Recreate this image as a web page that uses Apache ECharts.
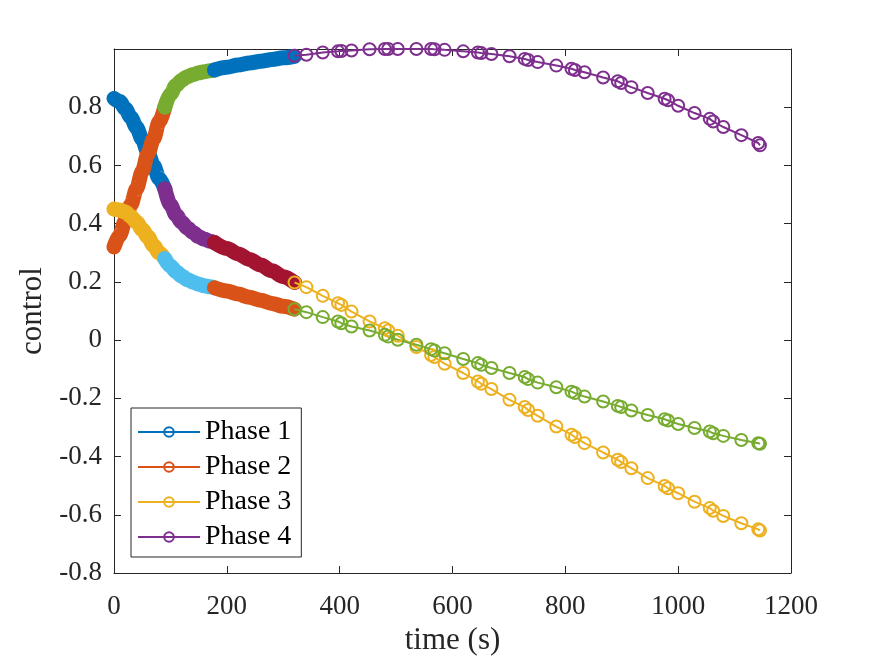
<!DOCTYPE html>
<html>
<head>
<meta charset="utf-8">
<script src="https://cdn.jsdelivr.net/npm/echarts@6/dist/echarts.min.js"></script>
<style>html,body{margin:0;padding:0;background:#fff}#c{width:875px;height:656px}</style>
</head>
<body>
<div id="c"></div>
<script>
// ---- data ----
const xTicks = [0, 200, 400, 600, 800, 1000, 1200];
const yTicks = [-0.8, -0.6, -0.4, -0.2, 0, 0.2, 0.4, 0.6, 0.8];
const legendNames = ['Phase 1', 'Phase 2', 'Phase 3', 'Phase 4'];

const p1Time  = [0, 10, 20, 30, 40, 50, 60, 70, 80, 90];
const p1CtrlA = [0.83, 0.82, 0.795, 0.765, 0.73, 0.69, 0.645, 0.60, 0.555, 0.52];
const p1CtrlB = [0.32, 0.36, 0.41, 0.465, 0.52, 0.58, 0.64, 0.69, 0.75, 0.80];
const p1CtrlC = [0.45, 0.447, 0.44, 0.425, 0.405, 0.38, 0.355, 0.325, 0.30, 0.28];

const p2Time  = [90, 100, 110, 120, 130, 140, 150, 160, 170, 178];
const p2CtrlA = [0.52, 0.465, 0.43, 0.405, 0.385, 0.37, 0.355, 0.347, 0.34, 0.335];
const p2CtrlB = [0.80, 0.845, 0.875, 0.893, 0.905, 0.912, 0.918, 0.922, 0.925, 0.928];
const p2CtrlC = [0.28, 0.255, 0.235, 0.22, 0.208, 0.199, 0.192, 0.187, 0.183, 0.18];

const p3Time  = [178, 200, 220, 240, 260, 280, 300, 320];
const p3CtrlA = [0.335, 0.315, 0.296, 0.277, 0.258, 0.238, 0.218, 0.198];
const p3CtrlB = [0.928, 0.937, 0.945, 0.952, 0.958, 0.964, 0.970, 0.975];
const p3CtrlC = [0.18, 0.169, 0.158, 0.147, 0.137, 0.126, 0.116, 0.106];

const p4Time = [320, 341, 370, 397, 403, 421, 453, 480, 486, 503, 536, 562, 568, 586,
  619, 645, 651, 669, 701, 728, 734, 751, 784, 811, 817, 834, 867, 893, 899, 917,
  946, 976, 982, 1000, 1029, 1056, 1062, 1080, 1112, 1142, 1145];
const p4CtrlA = [0.977, 0.980, 0.988, 0.992, 0.993, 0.995, 0.999, 1.000, 1.000, 1.000,
  1.000, 1.000, 0.999, 0.997, 0.992, 0.988, 0.986, 0.983, 0.975, 0.966, 0.962, 0.955,
  0.943, 0.932, 0.928, 0.920, 0.902, 0.889, 0.883, 0.869, 0.849, 0.829, 0.824, 0.805,
  0.780, 0.760, 0.751, 0.732, 0.704, 0.677, 0.669];
const p4CtrlB = [0.198, 0.182, 0.152, 0.127, 0.121, 0.098, 0.064, 0.041, 0.033, 0.015,
  -0.024, -0.051, -0.058, -0.081, -0.113, -0.142, -0.150, -0.168, -0.205, -0.230, -0.240,
  -0.260, -0.297, -0.325, -0.333, -0.354, -0.386, -0.411, -0.419, -0.440, -0.474, -0.501,
  -0.509, -0.526, -0.555, -0.577, -0.586, -0.604, -0.629, -0.650, -0.654];
const p4CtrlC = [0.106, 0.096, 0.079, 0.064, 0.058, 0.047, 0.033, 0.018, 0.012, 0.001,
  -0.016, -0.031, -0.036, -0.045, -0.065, -0.079, -0.085, -0.096, -0.113, -0.127, -0.134,
  -0.146, -0.162, -0.177, -0.182, -0.194, -0.211, -0.226, -0.230, -0.242, -0.257, -0.272,
  -0.276, -0.288, -0.302, -0.314, -0.320, -0.329, -0.343, -0.354, -0.356];

// ---- styling ----
const C = ['#0072BD', '#D95319', '#EDB120', '#7E2F8E', '#77AC30', '#4DBEEE', '#A2142F'];
const FONT = 'Liberation Serif';
const AX = '#262626';

function zip(t, v) { return t.map((x, i) => [x, v[i]]); }
function thick(t, v, color) {
  return { type: 'line', data: zip(t, v), showSymbol: false, symbol: 'none', smooth: 0.3,
    smoothMonotone: 'x', silent: true, animation: false,
    lineStyle: { color: color, width: 15, cap: 'round', join: 'round' } };
}
function marked(t, v, color, name) {
  return { type: 'line', name: name, data: zip(t, v), symbol: 'circle', symbolSize: 12,
    showAllSymbol: true, silent: true, animation: false,
    itemStyle: { color: 'rgba(0,0,0,0)', borderColor: color, borderWidth: 2 },
    lineStyle: { color: color, width: 2 } };
}

const series = [
  thick(p1Time, p1CtrlA, C[0]), thick(p1Time, p1CtrlB, C[1]), thick(p1Time, p1CtrlC, C[2]),
  thick(p2Time, p2CtrlA, C[3]), thick(p2Time, p2CtrlB, C[4]), thick(p2Time, p2CtrlC, C[5]),
  thick(p3Time, p3CtrlA, C[6]), thick(p3Time, p3CtrlB, C[0]), thick(p3Time, p3CtrlC, C[1]),
  marked(p4Time, p4CtrlB, C[2]), marked(p4Time, p4CtrlA, C[3]), marked(p4Time, p4CtrlC, C[4])
];
legendNames.forEach((n, i) => {
  series.push({ type: 'line', name: n, data: [], symbol: 'circle', symbolSize: 11,
    itemStyle: { color: 'rgba(0,0,0,0)', borderColor: C[i], borderWidth: 2 },
    lineStyle: { color: C[i], width: 2.5 } });
});

const tickLbl = { fontFamily: FONT, fontSize: 27, color: AX };
const chart = echarts.init(document.getElementById('c'), null, { renderer: 'canvas' });
chart.setOption({
  animation: false,
  backgroundColor: '#fff',
  grid: { left: 114, right: 84, top: 49, bottom: 83, containLabel: false, outerBoundsMode: 'none' },
  legend: {
    data: legendNames, orient: 'vertical', left: 131, top: 408,
    backgroundColor: '#fff', borderColor: AX, borderWidth: 1,
    padding: [10, 10, 6, 6], itemWidth: 62, itemHeight: 12, itemGap: 7,
    textStyle: { fontFamily: FONT, fontSize: 28, color: '#000' },
    selectedMode: false
  },
  xAxis: [
    { type: 'value', min: 0, max: 1200, interval: 200, position: 'bottom',
      name: 'time (s)', nameLocation: 'middle', nameGap: 49,
      nameTextStyle: { fontFamily: FONT, fontSize: 31, color: AX },
      axisLine: { onZero: false, lineStyle: { color: AX, width: 1 } },
      axisTick: { inside: true, length: 7, lineStyle: { color: AX } },
      axisLabel: Object.assign({ margin: 20, formatter: v => String(v) }, tickLbl),
      splitLine: { show: false } },
    { type: 'value', min: 0, max: 1200, interval: 200, position: 'top',
      axisLine: { onZero: false, lineStyle: { color: AX, width: 1 } },
      axisTick: { inside: true, length: 7, lineStyle: { color: AX } },
      axisLabel: { show: false }, splitLine: { show: false } }
  ],
  yAxis: [
    { type: 'value', min: -0.8, max: 1.0, interval: 0.2, position: 'left',
      name: 'control', nameLocation: 'middle', nameGap: 53,
      nameTextStyle: { fontFamily: FONT, fontSize: 31, color: AX },
      axisLine: { onZero: false, lineStyle: { color: AX, width: 1 } },
      axisTick: { inside: true, length: 7, lineStyle: { color: AX } },
      axisLabel: Object.assign({ margin: 12, formatter: v => {
        const r = Math.round(v * 10) / 10;
        if (r >= 1) return '';
        return r === 0 ? '0' : r.toFixed(1);
      } }, tickLbl),
      splitLine: { show: false } },
    { type: 'value', min: -0.8, max: 1.0, interval: 0.2, position: 'right',
      axisLine: { onZero: false, lineStyle: { color: AX, width: 1 } },
      axisTick: { inside: true, length: 7, lineStyle: { color: AX } },
      axisLabel: { show: false }, splitLine: { show: false } }
  ],
  series: series
});
</script>
</body>
</html>
